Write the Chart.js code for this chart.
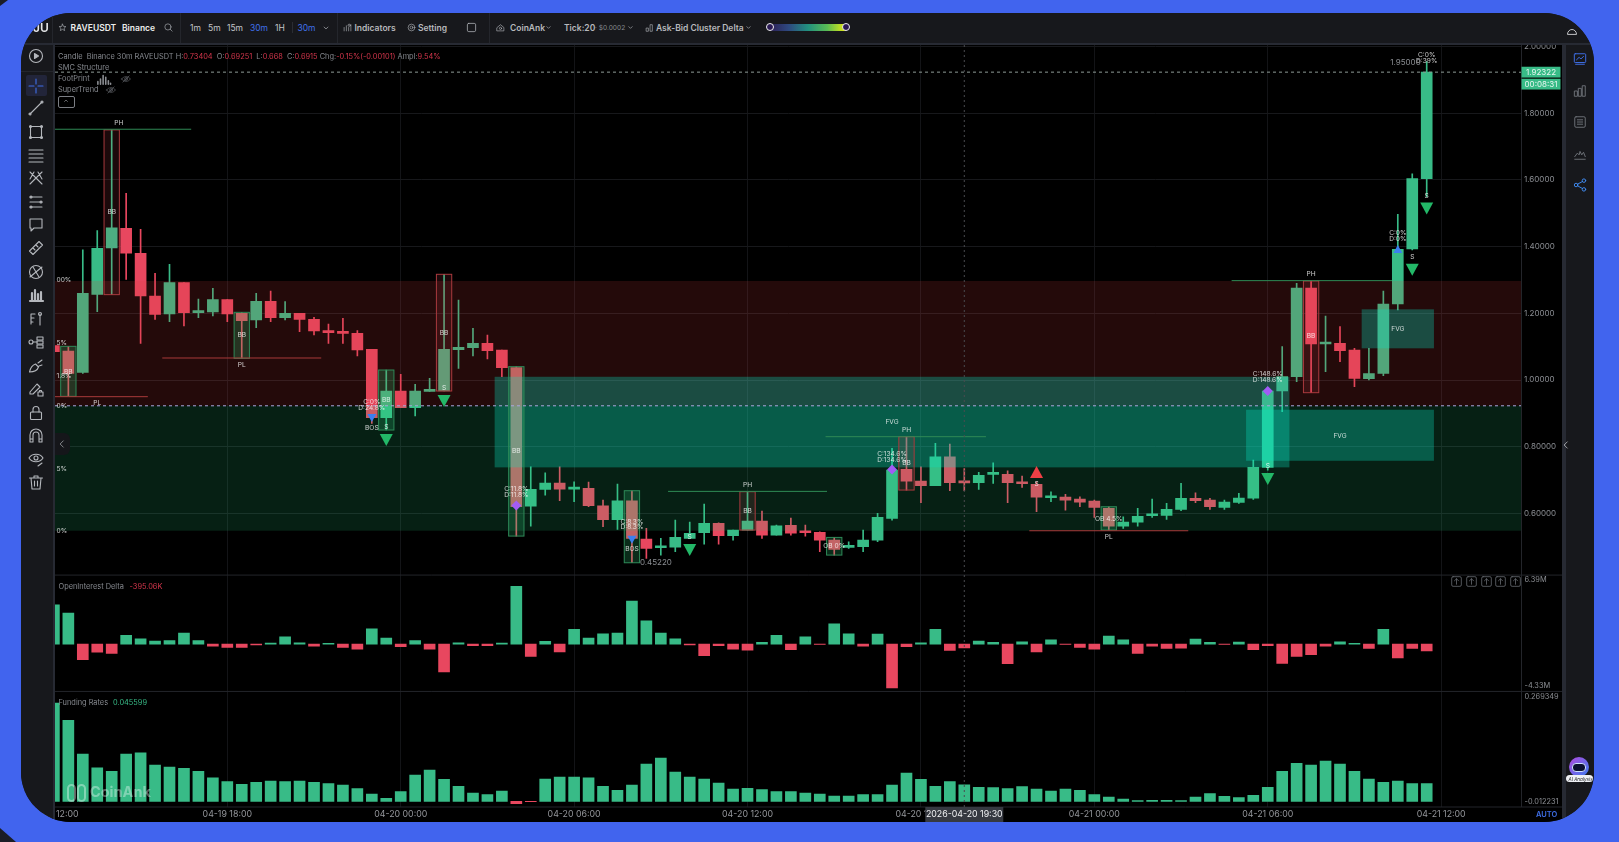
<!DOCTYPE html>
<html>
<head>
<meta charset="utf-8">
<title>RAVEUSDT</title>
<script src="https://cdn.jsdelivr.net/npm/chart.js@4"></script>
<style>
html,body{margin:0;padding:0;width:1619px;height:842px;overflow:hidden;background:#4164ee;font-family:Inter,sans-serif}
#frame{position:absolute;left:21px;top:13px;width:1573px;height:809px;border-radius:50px;overflow:hidden;background:#17181c}
#stage{position:absolute;left:-21px;top:-13px;width:1619px;height:842px}
#plotbg{position:absolute;left:55px;top:45px;width:1507px;height:777px;background:#000}
canvas{position:absolute;left:0;top:0}
.bar{position:absolute;background:#17181c}
.t{position:absolute;white-space:nowrap;font-size:8.5px;line-height:12px;color:#c4c6ca;transform:translateY(-50%)}
.b{font-weight:600}
.g{color:#85888e;font-size:7.4px}
.r{color:#d5364c}
.blue{color:#3f6fe8}
.sep{position:absolute;top:13px;height:30px;width:1px;background:#24262c}
svg.i{position:absolute;overflow:visible;fill:none;stroke:#b4b7bc;stroke-width:1.1;stroke-linecap:round;stroke-linejoin:round}
.corner{position:absolute;background:#1b1d26}
</style>
</head>
<body>
<div class="corner" style="left:0;top:0;width:8px;height:6px;clip-path:polygon(0 0,100% 0,0 100%)"></div>
<div class="corner" style="left:0;top:828px;width:16px;height:14px;clip-path:polygon(0 0,100% 100%,0 100%)"></div>
<div id="frame"><div id="stage">
  <div id="plotbg"></div>
  <canvas id="chartMain" width="1619" height="842"></canvas>
  <div id="ui"></div>
</div></div>
<script>
// bar slots, one every 30 minutes starting 04-19 12:00
const opens = [1.103,1.087,1.023,1.257,1.396,1.455,1.38,1.252,1.198,1.292,
  1.202,1.204,1.241,1.2,1.18,1.236,1.187,1.2,1.182,1.148,
  1.142,1.14,1.092,.887,.967,.917,.966,.967,1.091,1.097,
  1.11,1.09,1.037,.622,.672,.691,.673,.675,.623,.581,
  .638,.523,.497,.499,.525,.542,.57,.533,.55,.577,
  .535,.564,.544,.543,.52,.498,.5,.52,.585,.732,
  .697,.683,.77,.69251,.692,.717,.717,.691,.687,.647,
  .649,.643,.637,.615,.562,.574,.593,.594,.612,.645,
  .64,.618,.633,.646,.738,.967,1.01,1.276,1.108,1.11,
  1.09,1.004,1.02,1.228,1.393,1.604];
const closes = [1.085,1.02,1.26,1.395,1.456,1.38,1.252,1.197,1.292,1.202,
  1.205,1.241,1.198,1.178,1.236,1.187,1.2,1.182,1.147,1.142,
  1.14,1.09,.887,.967,.917,.967,.968,1.092,1.098,1.11,
  1.088,1.037,.62,.672,.691,.673,.675,.623,.581,.638,
  .525,.495,.499,.528,.54,.57,.533,.55,.577,.535,
  .563,.541,.542,.52,.492,.5,.52,.588,.73,.697,
  .683,.77,.692,.6915,.714,.719,.692,.689,.649,.649,
  .64,.634,.618,.562,.574,.591,.595,.612,.645,.638,
  .62,.634,.646,.738,.967,1.01,1.276,1.108,1.11,1.088,
  1.005,1.019,1.228,1.392,1.604,1.92322];
const highs = [1.16,1.101,1.39,1.448,1.75,1.56,1.452,1.32,1.347,1.292,
  1.243,1.275,1.241,1.203,1.26,1.267,1.235,1.2,1.188,1.168,
  1.185,1.148,1.092,1.03,1.017,.987,1.005,1.317,1.24,1.155,
  1.135,1.09,1.04,.74,.722,.74,.695,.694,.64,.688,
  .668,.555,.525,.58,.574,.628,.572,.55,.665,.607,
  .565,.586,.565,.545,.528,.515,.55,.6,.795,.83,
  .74,.81,.808,.73404,.723,.752,.728,.712,.695,.665,
  .657,.65,.64,.62,.59,.615,.643,.63,.69,.662,
  .645,.64,.66,.76,.97,1.1,1.29,1.297,1.192,1.16,
  1.095,1.095,1.267,1.497,1.618,1.955];
const lows = [1.05,.951,1.02,1.205,1.256,1.302,1.11,1.182,1.175,1.162,
  1.187,1.192,1.175,1.065,1.157,1.175,1.18,1.145,1.135,1.11,
  1.11,1.072,.87,.85,.917,.892,.966,.967,1.035,1.072,
  1.063,1.01,.532,.562,.655,.638,.635,.62,.56,.552,
  .452,.465,.475,.485,.525,.508,.508,.52,.55,.525,
  .535,.535,.532,.485,.475,.495,.485,.515,.58,.67,
  .632,.683,.668,.668,.672,.69,.632,.678,.605,.635,
  .61,.62,.588,.55,.555,.562,.588,.582,.608,.632,
  .612,.612,.63,.642,.73,.905,.995,.962,1.025,1.055,
  .98,1.0,1.013,1.21,1.39,1.55];
// open interest delta, millions
const oiDelta = [3.99,3.14,-1.59,-.81,-.95,.88,.54,.3,.37,1.12,
  .37,-.2,-.34,-.34,-.07,.1,.74,.14,-.2,.07,
  -.34,-.51,1.55,.61,-.27,.37,-.51,-2.81,.14,-.17,
  -.17,.1,5.85,-1.25,.27,-.78,1.49,.61,1.05,1.12,
  4.36,2.37,1.12,.54,-.07,-1.18,-.17,-.51,-.61,.17,
  .88,-.57,.74,-.03,2.06,1.05,-.2,1.01,-4.43,-.27,
  .14,1.49,-.64,-.395,.3,.17,-1.99,.24,-.78,.44,
  -.03,-.34,-.51,.81,.44,-.95,-.2,-.44,-.4,.51,
  .17,-.03,.2,-.57,-.17,-1.96,-1.25,-1.08,-.2,.24,
  .07,-.44,1.49,-1.39,-.44,-.68];
const fundingRates = [.269349,.222,.1296,.0922,.0822,.1296,.1333,.0995,.094,.0904,
  .0822,.0648,.0539,.0466,.052,.0557,.0539,.0557,.052,.0484,
  .0447,.0347,.0201,.0082,.0265,.0721,.0858,.0603,.0411,.0228,
  .0183,.0283,-.0064,-.0009,.0612,.0666,.0666,.0648,.0411,.0301,
  .0447,.1023,.1187,.0803,.0666,.0612,.0502,.0338,.0356,.032,
  .0265,.0265,.0228,.0201,.0146,.0146,.0183,.0183,.0447,.0776,
  .0603,.0411,.0539,.045599,.0383,.0374,.0347,.0402,.0338,.0283,
  .0338,.0301,.0183,.0119,.0064,.0018,.0027,.0027,.0018,.0119,
  .021,.0137,.01,.0164,.0383,.0822,.1041,.0995,.1105,.1023,
  .0822,.0612,.052,.0557,.0484,.0484];
const timeTicks = [0,12,24,36,48,60,72,84,96];
const timeLabels = ['04-19 12:00','04-19 18:00','04-20 00:00','04-20 06:00','04-20 12:00','04-20 18:00','04-21 00:00','04-21 06:00','04-21 12:00'];
const priceTicks = [.6,.8,1,1.2,1.4,1.6,1.8,2];
const lastPrice = 1.92322;
const fibPrice = .9227;
const hoverSlot = 63;
const hoverLabel = '2026-04-20 19:30';

// [from slot, to slot, high price, low price]
const zones = [
  [-2, 102, 1.297, fibPrice, 'rgba(220,60,60,0.165)'],
  [-2, 102, fibPrice, .548, 'rgba(40,215,135,0.15)']
];
const fvgBoxes = [[30.5,85.5,1.0097,.738],[82.5,95.5,.9108,.7578],[90.5,95.5,1.212,1.095]];
// [slot, high, low, kind]
const orderBoxes = [[1,1.101,.951,'g'],[4,1.75,1.256,'r'],[13,1.203,1.065,'g'],[23,1.03,.85,'g'],
  [27,1.317,.967,'r'],[32,1.04,.532,'g'],[40,.668,.452,'g'],[48,.665,.55,'r'],[54,.528,.475,'g'],
  [59,.83,.67,'r'],[73,.62,.55,'g'],[87,1.297,.962,'r']];
// [from, to, price, kind]
const swingLines = [[-2,9.5,1.752,'g'],[-2,6.5,.95,'r'],[7.5,18.5,1.066,'r'],[42.5,53.5,.666,'g'],
  [53.4,64.5,.83,'g'],[67.5,78.5,.548,'r'],[81.5,92.6,1.298,'g']];
// [slot, price, text]
const chartLabels = [[4.5,1.771,'PH'],[3,.93,'PL'],[13,1.046,'PL'],[48,.686,'PH'],[59,.849,'PH'],[73,.528,'PL'],[87,1.317,'PH'],
  [1,1.025,'BB'],[4,1.504,'BB'],[13,1.135,'BB'],[23,.94,'BB'],[27,1.142,'BB'],[32,.787,'BB'],[48,.608,'BB'],[59,.75,'BB'],[87,1.132,'BB'],
  [23,.858,'S'],[27,.975,'S'],[44,.53,'S'],[68,.687,'S'],[84,.742,'S'],[94,1.37,'S'],[95,1.552,'S'],
  [58,.873,'FVG'],[89,.833,'FVG'],[93,1.153,'FVG'],
  [22,.935,'C:0%'],[22,.917,'D:24.8%'],[32,.674,'C:11.8%'],[32,.655,'D:11.8%'],[40,.573,'C:8.3%'],[40,.559,'D:8.3%'],
  [58,.779,'C:134.6%'],[58,.761,'D:134.6%'],[84,1.017,'C:148.6%'],[84,.999,'D:148.6%'],
  [93,1.441,'C:0%'],[93,1.423,'D:0%'],[95,1.974,'C:0%'],[95,1.956,'D:39%'],
  [22,.857,'BOS'],[40,.494,'BOS'],[54,.502,'OB 0%'],[73,.584,'OB 4.5%']];
const fibLabels = [[1.299,'00%'],[1.112,'5%'],[1.012,'1.8%'],[.923,'0%'],[.734,'5%'],[.548,'0%']];
const sellTriangles = [[23,.82],[27,.937],[44,.49],[84,.703],[94,1.331],[95,1.514]];
const buyTriangles = [[68,.724]];
const bosMarks = [[22,.889,'d'],[40,.524,'d'],[93,1.39,'u']];
const diamonds = [[32,.624],[58,.732],[84,.967]];

const GREEN = '#38bb87';
const RED = '#e8475f';

const candleWicks = lows.map((v, i) => ({x: i, y: [v, highs[i]]}));
const candleBodies = opens.map((v, i) => ({x: i, y: [Math.min(v, closes[i]), Math.max(v, closes[i])]}));
const candleColors = opens.map((v, i) => closes[i] >= v ? GREEN : RED);

const overlays = {
  id: 'overlays',
  afterDatasetsDraw(chart) {
    const {ctx, chartArea, scales} = chart;
    const X = scales.x, Y = scales.y, OI = scales.yOi, FR = scales.yFr;
    const x = v => X.getPixelForValue(v);
    const y = v => Y.getPixelForValue(v);
    const unit = x(1) - x(0);
    ctx.save();
    ctx.beginPath();
    ctx.rect(chartArea.left, Y.top, chartArea.width, Y.height);
    ctx.clip();

    zones.forEach(z => {
      ctx.fillStyle = z[4];
      ctx.fillRect(x(z[0]), y(z[2]), x(z[1]) - x(z[0]), y(z[3]) - y(z[2]));
    });
    ctx.fillStyle = 'rgba(10,225,195,0.31)';
    fvgBoxes.forEach(b => ctx.fillRect(x(b[0]), y(b[2]), x(b[1]) - x(b[0]), y(b[3]) - y(b[2])));

    orderBoxes.forEach(b => {
      const left = x(b[0]) - unit * .53, w = unit * 1.06;
      ctx.fillStyle = b[3] === 'g' ? 'rgba(50,220,130,0.2)' : 'rgba(230,70,90,0.12)';
      ctx.strokeStyle = b[3] === 'g' ? '#2e8a58' : '#a93a3e';
      ctx.lineWidth = 1;
      ctx.fillRect(left, y(b[1]), w, y(b[2]) - y(b[1]));
      ctx.strokeRect(left, y(b[1]), w, y(b[2]) - y(b[1]));
    });
    swingLines.forEach(l => {
      ctx.strokeStyle = l[3] === 'g' ? '#2f8a55' : '#a83a3a';
      ctx.lineWidth = 1;
      ctx.beginPath();
      ctx.moveTo(x(l[0]), y(l[2]));
      ctx.lineTo(x(l[1]), y(l[2]));
      ctx.stroke();
    });

    // dashed price lines
    ctx.setLineDash([3, 3]);
    ctx.strokeStyle = '#8d9a95';
    ctx.beginPath(); ctx.moveTo(chartArea.left, y(lastPrice)); ctx.lineTo(chartArea.right, y(lastPrice)); ctx.stroke();
    ctx.strokeStyle = '#aaa6dc';
    ctx.beginPath(); ctx.moveTo(chartArea.left, y(fibPrice)); ctx.lineTo(chartArea.right, y(fibPrice)); ctx.stroke();
    ctx.setLineDash([]);

    sellTriangles.forEach(t => {
      const cx = x(t[0]), cy = y(t[1]);
      ctx.fillStyle = '#23b868';
      ctx.beginPath(); ctx.moveTo(cx - 6.5, cy - 6); ctx.lineTo(cx + 6.5, cy - 6); ctx.lineTo(cx, cy + 6); ctx.fill();
    });
    buyTriangles.forEach(t => {
      const cx = x(t[0]), cy = y(t[1]);
      ctx.fillStyle = '#ef3f45';
      ctx.beginPath(); ctx.moveTo(cx - 6.5, cy + 6); ctx.lineTo(cx + 6.5, cy + 6); ctx.lineTo(cx, cy - 6); ctx.fill();
    });
    bosMarks.forEach(t => {
      const cx = x(t[0]), cy = y(t[1]), s = t[2] === 'd' ? 1 : -1;
      ctx.fillStyle = '#3b7ff0';
      ctx.beginPath(); ctx.moveTo(cx - 4.5, cy - 3 * s); ctx.lineTo(cx + 4.5, cy - 3 * s); ctx.lineTo(cx, cy + 5 * s); ctx.fill();
    });
    diamonds.forEach(t => {
      const cx = x(t[0]), cy = y(t[1]);
      ctx.fillStyle = '#a25cf5';
      ctx.beginPath(); ctx.moveTo(cx, cy - 5); ctx.lineTo(cx + 5, cy); ctx.lineTo(cx, cy + 5); ctx.lineTo(cx - 5, cy); ctx.fill();
    });

    ctx.font = '6.6px Inter';
    ctx.textAlign = 'center';
    ctx.textBaseline = 'middle';
    ctx.fillStyle = 'rgba(255,255,255,0.78)';
    chartLabels.forEach(l => ctx.fillText(l[2], x(l[0]), y(l[1])));
    ctx.textAlign = 'left';
    fibLabels.forEach(l => ctx.fillText(l[1], chartArea.left + 1.5, y(l[0])));

    ctx.font = '8px Inter';
    ctx.fillStyle = '#8b8e93';
    ctx.textAlign = 'right';
    ctx.fillText('1.95000', x(95) - 6, y(1.952));
    ctx.textAlign = 'left';
    ctx.fillText('0.45220', x(40) + 8, y(.4522));
    ctx.restore();

    // pane rules and crosshair
    ctx.save();
    ctx.strokeStyle = '#23252a';
    ctx.lineWidth = 1;
    [OI.top, FR.top, chartArea.bottom].forEach(v => {
      ctx.beginPath(); ctx.moveTo(chartArea.left, v); ctx.lineTo(chartArea.right + 41, v); ctx.stroke();
    });
    ctx.beginPath(); ctx.moveTo(chartArea.right, chartArea.top); ctx.lineTo(chartArea.right, chartArea.bottom); ctx.stroke();
    ctx.setLineDash([2, 3]);
    ctx.strokeStyle = '#4a4c50';
    ctx.beginPath(); ctx.moveTo(x(hoverSlot), chartArea.top); ctx.lineTo(x(hoverSlot), chartArea.bottom); ctx.stroke();
    ctx.setLineDash([]);

    // last price tags
    ctx.fillStyle = GREEN;
    ctx.fillRect(chartArea.right, y(lastPrice) - 5.4, 39, 10.8);
    ctx.fillRect(chartArea.right, y(lastPrice) + 6.6, 39, 10.8);
    ctx.fillStyle = '#e8f6f0';
    ctx.font = '8px Inter';
    ctx.textAlign = 'center';
    ctx.textBaseline = 'middle';
    ctx.fillText(lastPrice.toFixed(5), chartArea.right + 19.5, y(lastPrice));
    ctx.fillText('00:08:31', chartArea.right + 19.5, y(lastPrice) + 12);

    // pane end labels
    ctx.fillStyle = '#8b8e93';
    ctx.textAlign = 'left';
    ctx.font = '7.4px Inter';
    const tx = chartArea.right + 3;
    ctx.fillText('6.39M', tx, OI.top + 5);
    ctx.fillText('-4.33M', tx, OI.bottom - 5.5);
    ctx.fillText('0.269349', tx, FR.top + 5);
    ctx.fillText('-0.012231', tx, FR.bottom - 5.5);

    // hovered time
    ctx.fillStyle = '#363941';
    ctx.fillRect(x(hoverSlot) - 39, chartArea.bottom, 78, 15);
    ctx.fillStyle = '#f2f3f5';
    ctx.font = '8.8px Inter';
    ctx.textAlign = 'center';
    ctx.fillText(hoverLabel, x(hoverSlot), chartArea.bottom + 7.5);

    // watermark
    ctx.fillStyle = 'rgba(255,255,255,0.36)';
    ctx.font = 'bold 14.5px Inter';
    ctx.textAlign = 'left';
    ctx.fillText('CoinAnk', 90, 793);
    ctx.strokeStyle = 'rgba(255,255,255,0.38)';
    ctx.lineWidth = 2;
    ctx.beginPath(); ctx.roundRect(68, 785, 7, 16, 3.5); ctx.stroke();
    ctx.beginPath(); ctx.roundRect(78, 785, 7, 16, 3.5); ctx.stroke();
    ctx.restore();
  }
};

new Chart(document.getElementById('chartMain'), {
  type: 'bar',
  data: {
    datasets: [
      {data: candleWicks, yAxisID: 'y', barThickness: 1, backgroundColor: candleColors, order: 3},
      {data: candleBodies, yAxisID: 'y', barThickness: 11, minBarLength: 2, backgroundColor: candleColors, order: 2},
      {data: oiDelta.map((v, i) => ({x: i, y: v})), yAxisID: 'yOi', barThickness: 11,
        backgroundColor: oiDelta.map(v => v >= 0 ? GREEN : RED), order: 1},
      {data: fundingRates.map((v, i) => ({x: i, y: v})), yAxisID: 'yFr', barThickness: 11,
        backgroundColor: fundingRates.map(v => v >= 0 ? GREEN : RED), order: 1}
    ]
  },
  options: {
    responsive: false,
    animation: false,
    devicePixelRatio: 1,
    events: [],
    grouped: false,
    layout: {padding: {left: 55, top: 45, right: 57, bottom: 20}},
    plugins: {legend: {display: false}, tooltip: {enabled: false}},
    scales: {
      x: {
        type: 'linear',
        offset: false,
        min: .076,
        max: 101.56,
        afterBuildTicks: s => { s.ticks = timeTicks.map(v => ({value: v})); },
        afterFit: s => { s.height = 15; },
        grid: {color: '#131417', drawTicks: false, offset: false},
        border: {display: false},
        ticks: {
          autoSkip: false, maxRotation: 0, minRotation: 0, padding: 2.5,
          color: '#94969b', font: {family: 'Inter', size: 8.8},
          callback: v => timeLabels[timeTicks.indexOf(v)]
        }
      },
      y: {
        position: 'right', stack: 'panes', stackWeight: 530.3, min: .415, max: 2.0046,
        afterBuildTicks: s => { s.ticks = priceTicks.map(v => ({value: v})); },
        afterFit: s => { s.width = 40.5; },
        grid: {color: '#17181b', drawTicks: false},
        border: {display: false},
        ticks: {padding: 2.5, color: '#8b8e93', font: {family: 'Inter', size: 8}, callback: v => v.toFixed(5)}
      },
      yOi: {
        position: 'right', stack: 'panes', stackWeight: 116.4, min: -4.8, max: 7,
        afterFit: s => { s.width = 40.5; },
        grid: {display: false}, border: {display: false}, ticks: {display: false}
      },
      yFr: {
        position: 'right', stack: 'panes', stackWeight: 115.6, min: -.0155, max: .3013,
        afterFit: s => { s.width = 40.5; },
        grid: {display: false}, border: {display: false}, ticks: {display: false}
      }
    }
  },
  plugins: [overlays]
});

// toolbars around the plot
function text(x, y, html, cls, extra) {
  return `<div class="t ${cls || ''}" style="left:${x}px;top:${y}px;${extra || ''}">${html}</div>`;
}
function icon(cx, cy, body, size, color) {
  const s = size || 16;
  const st = color ? `stroke:${color};` : '';
  return `<svg class="i" style="left:${cx - s / 2}px;top:${cy - s / 2}px;${st}" width="${s}" height="${s}" viewBox="0 0 16 16">${body}</svg>`;
}
const chevron = '<path d="M5 6.5l3 3 3-3"/>';
const eye = '<path d="M1 8c3-5 11-5 14 0-3 5-11 5-14 0z"/><circle cx="8" cy="8" r="2.2"/><path d="M3 13L13 3"/>';
const leftIcons = [
  [56, '<circle cx="8" cy="8" r="6.5"/><path d="M6.5 5.5l4 2.5-4 2.5z" fill="#b4b7bc"/>'],
  [108, '<path d="M2 14L14 2"/><circle cx="2" cy="14" r="1"/><circle cx="14" cy="2" r="1"/>'],
  [132, '<rect x="2.5" y="2.5" width="11" height="11"/><circle cx="2.5" cy="2.5" r="1"/><circle cx="13.5" cy="2.5" r="1"/><circle cx="2.5" cy="13.5" r="1"/><circle cx="13.5" cy="13.5" r="1"/>'],
  [155, '<path d="M1 3h14M1 7h14M1 11h14M1 15h14"/>'],
  [178, '<path d="M2 2l12 12M14 2L2 14M2 9l4-7M14 9l-4-7"/>'],
  [202, '<path d="M2 3h12M2 8h12M2 13h12"/><circle cx="3" cy="3" r="1"/><circle cx="13" cy="8" r="1"/><circle cx="3" cy="13" r="1"/>'],
  [225, '<path d="M2 2h12v9H6l-3 3v-3H2z"/>'],
  [248, '<path d="M1.5 11L11 1.5l3.5 3.5L5 14.5zM5 8l2 2M8 5l2 2"/>'],
  [272, '<circle cx="8" cy="8" r="6.5"/><path d="M2 13L14 3M5 3l6 10"/>'],
  [295, '<path d="M2 14h13M4 13V6M7 13V3M10 13V7M13 13V5" stroke-width="2.2"/>'],
  [319, '<path d="M3 3v10M3 3h4M3 7h3M3 11h2M12 3v11"/><circle cx="12" cy="3" r="1.5"/>'],
  [342, '<circle cx="3" cy="8" r="2"/><path d="M5 8h4"/><rect x="9" y="3" width="6" height="3"/><rect x="9" y="7" width="6" height="3"/><rect x="9" y="11" width="6" height="3"/>'],
  [366, '<path d="M1.5 14c1-5 3-7 6-8l3 3c-1 3-4 5-9 5zM10 5l4-3M11 8l3-1"/>'],
  [389, '<path d="M2 11L9 3l3 3-7 7H2zM10 11h5v4h-5zM11.5 11V9.5h2V11"/>'],
  [413, '<rect x="2.5" y="7" width="11" height="7.5" rx="1"/><path d="M5 7V4.5a3 3 0 016 0V7"/>'],
  [436, '<path d="M2 14V7a6 6 0 0112 0v7h-3V7a3 3 0 00-6 0v7zM2 11h3M11 11h3"/>'],
  [459, '<path d="M1 7c3-5 11-5 14 0-3 5-11 5-14 0z"/><circle cx="8" cy="7" r="2"/><path d="M10 15l4-3"/>'],
  [482, '<path d="M3 4h10l-1 11H4zM1.5 4h13M6 4V2h4v2M6.5 7v5M9.5 7v5"/>']
];
const rightIcons = [
  [59, '<rect x="1.5" y="2" width="13" height="10" rx="1"/><path d="M4 9l3-3 2 2 3-3M3 14h10"/>', '#3f6fe8'],
  [91, '<rect x="2" y="8" width="3" height="6"/><rect x="6.5" y="5" width="3" height="9"/><rect x="11" y="2" width="3" height="12"/>'],
  [122, '<rect x="2" y="2" width="12" height="12" rx="1.5"/><path d="M5 5.5h6M5 8h6M5 10.5h6"/>'],
  [154, '<path d="M2 14h12M2 11l3-4 2 2 1-4 2 4 2-3 2 5"/>'],
  [185, '<circle cx="3.5" cy="8" r="2"/><circle cx="12.5" cy="3" r="2"/><circle cx="12.5" cy="13" r="2"/><path d="M5.3 7l5.5-3M5.3 9l5.5 3"/>', '#3f8af0']
];
const paneIcons = [1456, 1471, 1486, 1500.5, 1515.6];

let ui = '';
ui += '<div class="bar" style="left:0;top:0;width:1619px;height:43px"></div>';
ui += '<div class="bar" style="left:0;top:43px;width:1619px;height:2px;background:#272a33"></div>';
ui += '<div class="bar" style="left:0;top:45px;width:53px;height:797px"></div>';
ui += '<div class="bar" style="left:53px;top:45px;width:2px;height:777px;background:#272a33"></div>';
ui += '<div class="bar" style="left:21px;top:71px;width:32px;height:1px;background:#24262c"></div>';
ui += '<div class="bar" style="left:1562px;top:45px;width:4px;height:777px;background:#272a33"></div>';
ui += '<div class="bar" style="left:1566px;top:45px;width:53px;height:797px"></div>';
[52, 180, 337, 489].forEach(v => { ui += `<div class="sep" style="left:${v}px"></div>`; });
ui += '<div class="bar" style="left:292px;top:22px;width:1px;height:11px;background:#2b2d33"></div>';

ui += text(33, 28, 'JU', 'b', 'font-size:12px;color:#e6e7e9');
ui += icon(62, 27.5, '<path d="M8 2l1.8 4 4.2.4-3.2 2.8 1 4.3L8 11.2 4.2 13.5l1-4.3L2 6.4 6.2 6z"/>', 9);
ui += text(70.5, 27.5, 'RAVEUSDT', 'b', 'color:#eceded');
ui += text(122, 27.5, 'Binance', 'b', 'color:#eceded');
ui += icon(168, 27.5, '<circle cx="7" cy="7" r="5.5"/><path d="M11 11l3.5 3.5"/>', 9);
ui += text(190, 27.5, '1m');
ui += text(208, 27.5, '5m');
ui += text(227, 27.5, '15m');
ui += text(250, 27.5, '30m', 'blue');
ui += text(275, 27.5, '1H');
ui += text(297.5, 27.5, '30m', 'blue');
ui += icon(326, 27.5, chevron, 10);
ui += icon(347, 27.5, '<path d="M2 14V8M6 14V5M10 14V8M14 14V3"/><circle cx="11" cy="4" r="2"/>', 9);
ui += text(354.5, 27.5, 'Indicators', 'b', 'color:#b7b9bd');
ui += icon(411.5, 27.5, '<circle cx="8" cy="8" r="6"/><circle cx="8" cy="8" r="2.5"/>', 9);
ui += text(418, 27.5, 'Setting', 'b', 'color:#b7b9bd');
ui += icon(471, 27.5, '<rect x="2" y="2" width="12" height="12" rx="2"/>', 11);
ui += icon(500, 27.5, '<path d="M2 8l6-5 6 5v6H2z"/><circle cx="8" cy="9.5" r="2"/>', 9);
ui += text(510, 27.5, 'CoinAnk', 'b', 'color:#b7b9bd');
ui += icon(548.5, 27.5, chevron, 9);
ui += text(564, 27.5, 'Tick:20', 'b', 'color:#b7b9bd');
ui += text(595, 27.5, '· $0.0002', '', 'font-size:6.6px;color:#85888e');
ui += icon(630, 27.5, chevron, 9);
ui += icon(649, 27.5, '<path d="M2 14V9h4v5zM9 14V3h4v11z"/>', 9);
ui += text(656, 27.5, 'Ask-Bid Cluster Delta', 'b', 'color:#b7b9bd');
ui += icon(748, 27.5, chevron, 9);
ui += '<div class="bar" style="left:770px;top:24px;width:76px;height:7px;background:linear-gradient(90deg,#2d1f55,#2e4a80,#22907f,#58bb55,#e6ea10)"></div>';
ui += '<div class="bar" style="left:765.5px;top:23px;width:6px;height:6px;border:1.5px solid #eee;border-radius:50%;background:#2a1a55"></div>';
ui += '<div class="bar" style="left:842px;top:23px;width:6px;height:6px;border:1.5px solid #eee;border-radius:50%;background:#2a1a55"></div>';

ui += '<div class="bar" style="left:26px;top:75px;width:21px;height:21px;background:#22253a;border-radius:2px"></div>';
ui += icon(36, 85.5, '<path d="M8 1v5M8 10v5M1 8h5M10 8h5"/>', 16, '#3f6fe8');
leftIcons.forEach(i => { ui += icon(36, i[0], i[1]); });
rightIcons.forEach(i => { ui += icon(1579.5, i[0], i[1], 14, i[2] || '#6d7178'); });
ui += icon(1572, 31, '<path d="M2 12a6 6 0 0112 0z"/>', 12, '#e6e7e9');

ui += text(58, 56.5, 'Candle&nbsp; Binance 30m RAVEUSDT H:<span class="r">0.73404</span>&nbsp; O:<span class="r">0.69251</span>&nbsp; L:<span class="r">0.668</span>&nbsp; C:<span class="r">0.6915</span> Chg:<span class="r">-0.15%(-0.00101)</span> Ampl:<span class="r">9.54%</span>', 'g');
ui += text(58, 67.5, 'SMC Structure', 'g');
ui += text(58, 78.5, 'FootPrint', 'g');
ui += icon(104, 78.5, '<path d="M1 14v-3M4 14V8M7 14V4M10 14V6M13 14v-4M15.5 14v-1" stroke-width="1.8"/>', 14, '#8b8e93');
ui += icon(126, 78.5, eye, 10, '#62656b');
ui += text(58, 89.5, 'SuperTrend', 'g');
ui += icon(111, 89.5, eye, 10, '#62656b');
ui += '<div class="bar" style="left:58px;top:96px;width:15px;height:10px;border:1px solid #7b7e84;border-radius:2px;background:#000"></div>';
ui += icon(66, 101, '<path d="M5 9l3-3 3 3"/>', 8, '#b4b7bc');

ui += '<div class="bar" style="left:55px;top:433px;width:15px;height:22px;background:#15161a;border-radius:0 6px 6px 0"></div>';
ui += icon(62, 444, '<path d="M10 3L5 8l5 5"/>', 10);
ui += icon(1565.5, 445, '<path d="M10 3L5 8l5 5"/>', 10, '#d8dade');

ui += text(58.5, 586.5, 'OpenInterest Delta', 'g');
ui += text(129.5, 586.5, '-395.06K', 'g', 'color:#d5364c');
ui += text(58.5, 703, 'Funding Rates', 'g');
ui += text(113, 703, '0.045599', 'g', 'color:#38bb87');
ui += text(1536, 814.5, 'AUTO', 'b', 'font-size:7.5px;color:#3f6fe8');
paneIcons.forEach(v => {
  ui += icon(v, 581.7, '<rect x="1" y="1" width="14" height="14" rx="2"/><path d="M8 4v8M5 7l3-3 3 3"/>', 11, '#6d7178');
});
// AI badge
ui += '<div class="bar" style="left:1569px;top:757px;width:20px;height:20px;border-radius:50%;background:linear-gradient(135deg,#b14be0,#3a7cf0)"></div>';
ui += '<div class="bar" style="left:1572px;top:762.5px;width:14px;height:9px;border-radius:4px;background:#0c1030;border:1px solid #cfe0ff;box-sizing:border-box"></div>';
ui += '<div class="bar" style="left:1566px;top:775px;width:27px;height:7px;border-radius:3.5px;background:#eef0f4"></div>';
ui += text(1568.5, 778.5, 'AI Analysis', '', 'font-size:4.6px;line-height:7px;color:#222;font-style:italic');

document.getElementById('ui').innerHTML = ui;
</script>
</body>
</html>
